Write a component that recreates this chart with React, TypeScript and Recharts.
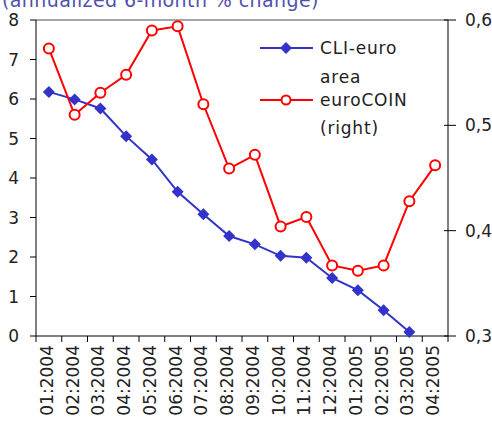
import React from 'react';
import {
  LineChart,
  Line,
  XAxis,
  YAxis,
  ReferenceLine
} from 'recharts';

const months = [
  '01:2004', '02:2004', '03:2004', '04:2004', '05:2004', '06:2004', '07:2004', '08:2004',
  '09:2004', '10:2004', '11:2004', '12:2004', '01:2005', '02:2005', '03:2005', '04:2005'
];
const cliEuro = [6.18, 5.99, 5.76, 5.06, 4.47, 3.65, 3.08, 2.53, 2.32, 2.03, 1.98, 1.47, 1.16, 0.65, 0.1, null];
const euroCoin = [0.573, 0.51, 0.531, 0.548, 0.59, 0.594, 0.52, 0.459, 0.472, 0.404, 0.413, 0.367, 0.362, 0.367, 0.428, 0.462];
const leftTicks = [0, 1, 2, 3, 4, 5, 6, 7, 8];
const rightTicks = [0.3, 0.4, 0.5, 0.6];

const data = months.map((m, i) => ({ month: m, cli: cliEuro[i], coin: euroCoin[i] }));

const FONT = '"DejaVu Sans", sans-serif';
const BLUE = '#3333cc';
const RED = '#ff0000';
const BAND = 412 / months.length;

const Diamond = ({ cx, cy }: any) => {
  if (cx == null || cy == null) return null;
  const s = 6;
  return <polygon points={`${cx},${cy - s} ${cx + s},${cy} ${cx},${cy + s} ${cx - s},${cy}`} fill={BLUE} />;
};

const MonthTick = ({ x, y, payload, index }: any) => (
  <g>
    <line x1={x - BAND / 2} x2={x - BAND / 2} y1={y} y2={y + 6} stroke="#000" />
    {index === months.length - 1 && (
      <line x1={x + BAND / 2} x2={x + BAND / 2} y1={y} y2={y + 6} stroke="#000" />
    )}
    <text
      transform={`translate(${x - 2},${y + 9}) rotate(-90)`}
      textAnchor="end"
      dominantBaseline="central"
      fontSize={17}
      fill="#222"
      fontFamily={FONT}
    >
      {payload.value}
    </text>
  </g>
);

const RightTick = ({ x, y, payload }: any) => (
  <g>
    <line x1={x - 12} x2={x} y1={y} y2={y} stroke="#000" />
    <text x={x + 9} y={y} dominantBaseline="central" fontSize={17} fill="#222" fontFamily={FONT}>
      {String(payload.value).replace('.', ',')}
    </text>
  </g>
);

const legendText = { dominantBaseline: 'central', fontSize: 17, fill: '#222', fontFamily: FONT, letterSpacing: 0.8 } as any;

export default function App() {
  return (
    <div style={{ position: 'absolute', left: 0, top: 0, width: 492, height: 433, background: '#fff', fontFamily: FONT, overflow: 'hidden' }}>
      <div style={{ position: 'absolute', left: 2, top: -11, fontSize: 19, color: '#5050b0', whiteSpace: 'nowrap', letterSpacing: 0.4 }}>
        (annualized 6-month % change)
      </div>
      <LineChart width={492} height={433} data={data} margin={{ top: 20, right: 0, bottom: 0, left: 0 }}>
        <XAxis
          dataKey="month"
          height={97}
          interval={0}
          padding={{ left: BAND / 2, right: BAND / 2 }}
          tickSize={0}
          tickMargin={0}
          tickLine={false}
          axisLine={{ stroke: '#000' }}
          tick={<MonthTick />}
        />
        <YAxis
          yAxisId="left"
          width={36}
          domain={[0, 8]}
          ticks={leftTicks}
          interval={0}
          tickSize={6}
          tickMargin={11}
          axisLine={{ stroke: '#000' }}
          tickLine={{ stroke: '#000' }}
          tick={{ fontSize: 17, fill: '#222', fontFamily: FONT }}
        />
        <YAxis
          yAxisId="right"
          orientation="right"
          width={44}
          domain={[0.3, 0.6]}
          ticks={rightTicks}
          interval={0}
          tickSize={6}
          tickLine={false}
          axisLine={{ stroke: '#000' }}
          tick={<RightTick />}
        />
        <ReferenceLine yAxisId="left" y={8} stroke="#888" strokeWidth={1.5} />
        <Line
          yAxisId="left"
          dataKey="cli"
          stroke={BLUE}
          strokeWidth={2}
          dot={<Diamond />}
          activeDot={false}
          isAnimationActive={false}
        />
        <Line
          yAxisId="right"
          dataKey="coin"
          stroke={RED}
          strokeWidth={2}
          dot={{ r: 5, stroke: RED, strokeWidth: 2, fill: '#fff' }}
          activeDot={false}
          isAnimationActive={false}
        />
      </LineChart>
      <svg style={{ position: 'absolute', left: 0, top: 0 }} width={492} height={433} pointerEvents="none">
        <line x1={260} x2={313} y1={48} y2={48} stroke={BLUE} strokeWidth={2} />
        <Diamond cx={286} cy={48} />
        <text x={320} y={48} {...legendText}>CLI-euro</text>
        <text x={320} y={77} {...legendText}>area</text>
        <line x1={260} x2={313} y1={100} y2={100} stroke={RED} strokeWidth={2} />
        <circle cx={286} cy={100} r={4.5} stroke={RED} strokeWidth={2} fill="#fff" />
        <text x={320} y={100} {...legendText}>euroCOIN</text>
        <text x={320} y={128} {...legendText}>(right)</text>
      </svg>
    </div>
  );
}
